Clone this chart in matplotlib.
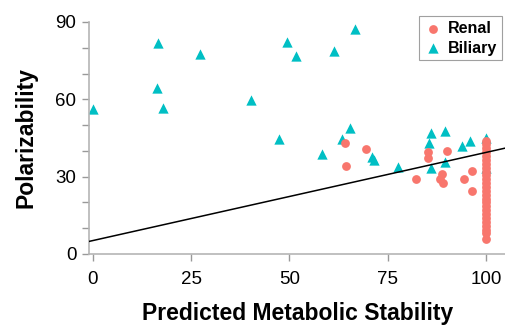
import numpy as np
import matplotlib
matplotlib.use("Agg")
import matplotlib.pyplot as plt

plt.rcParams['font.family'] = ['Liberation Sans', 'DejaVu Sans']

# data
renal_x = [64.2, 69.4, 64.4, 85.3, 85.3, 90.2, 82.2, 88.7, 88.3, 89.2, 94.5, 96.4, 96.4]
renal_y = [42.9, 40.7, 34.1, 39.7, 37.1, 40.1, 29.1, 31.0, 29.1, 27.7, 29.1, 32.3, 24.4]
# the stack of renal compounds at 100
renal_col_y = [44, 42.5, 41, 39.5, 38, 36.5, 35, 33.5, 32, 30.5, 29, 27.5, 26, 24.5,
               23, 21.5, 20, 18.5, 17, 15.5, 14, 12.5, 11, 9.5, 8, 6]

biliary_x = [0.1, 16.5, 16.3, 18.0, 27.2, 40.2, 49.5, 51.7, 61.4, 66.8, 47.3, 65.4, 63.3,
             58.3, 70.9, 71.5, 77.7, 86.0, 89.7, 85.4, 93.9, 95.9, 89.7, 86.1, 100, 100]
biliary_y = [56.1, 81.7, 64.4, 56.5, 77.6, 59.6, 82.1, 76.9, 78.7, 87.3, 44.5, 48.8, 44.5,
             38.8, 37.7, 36.5, 33.9, 46.8, 47.7, 43.2, 41.9, 44.0, 35.8, 33.2, 45.0, 33.2]

fit_intercept = 5.2
fit_slope = 0.342

xticks = [0, 25, 50, 75, 100]
yticks = [0, 30, 60, 90]

fig = plt.figure(figsize=(5.06, 3.25), dpi=100)
ax = fig.add_axes([89 / 506, 71 / 325, 1 - 89 / 506, 232 / 325])

rx = renal_x + [100] * len(renal_col_y)
ry = renal_y + renal_col_y

hb = ax.scatter(biliary_x, biliary_y, marker='^', s=55, color='#00BFC4',
                linewidths=0, zorder=2, label='Biliary')
hr = ax.scatter(rx, ry, marker='o', s=40, color='#F8766D',
                linewidths=0, zorder=3, label='Renal')

xl = (-0.94, 105.1)
xs = np.array(xl)
ax.plot(xs, fit_intercept + fit_slope * xs, color='black', lw=1.1, zorder=4)

ax.set_xlim(xl)
ax.set_ylim(0, 90)
ax.set_xticks(xticks)
ax.set_yticks(yticks)
ax.set_yticks(np.arange(0, 91, 10), minor=True)

for s in ['top', 'right']:
    ax.spines[s].set_visible(False)
for s in ['left', 'bottom']:
    ax.spines[s].set_color('#b5b5b5')
    ax.spines[s].set_linewidth(1.2)

ax.tick_params(axis='both', which='both', direction='out', color='#999999',
               length=5, width=1, labelsize=13.5)
ax.tick_params(axis='x', pad=7)
ax.tick_params(axis='y', pad=4)

ax.set_xlabel('Predicted Metabolic Stability', fontsize=16.5, fontweight='bold',
              labelpad=10)
ax.set_ylabel('Polarizability', fontsize=16.5, fontweight='bold', labelpad=13)

leg = ax.legend(handles=[hr, hb], loc='upper right', bbox_to_anchor=(0.99, 1.026),
                borderaxespad=0,
                prop={'weight': 'bold', 'size': 11.5}, fancybox=False,
                edgecolor='#888888', handletextpad=0.3, borderpad=0.3,
                handlelength=1.2, labelspacing=0.3)
leg.get_frame().set_linewidth(0.8)

fig.savefig('out.png', dpi=100)
